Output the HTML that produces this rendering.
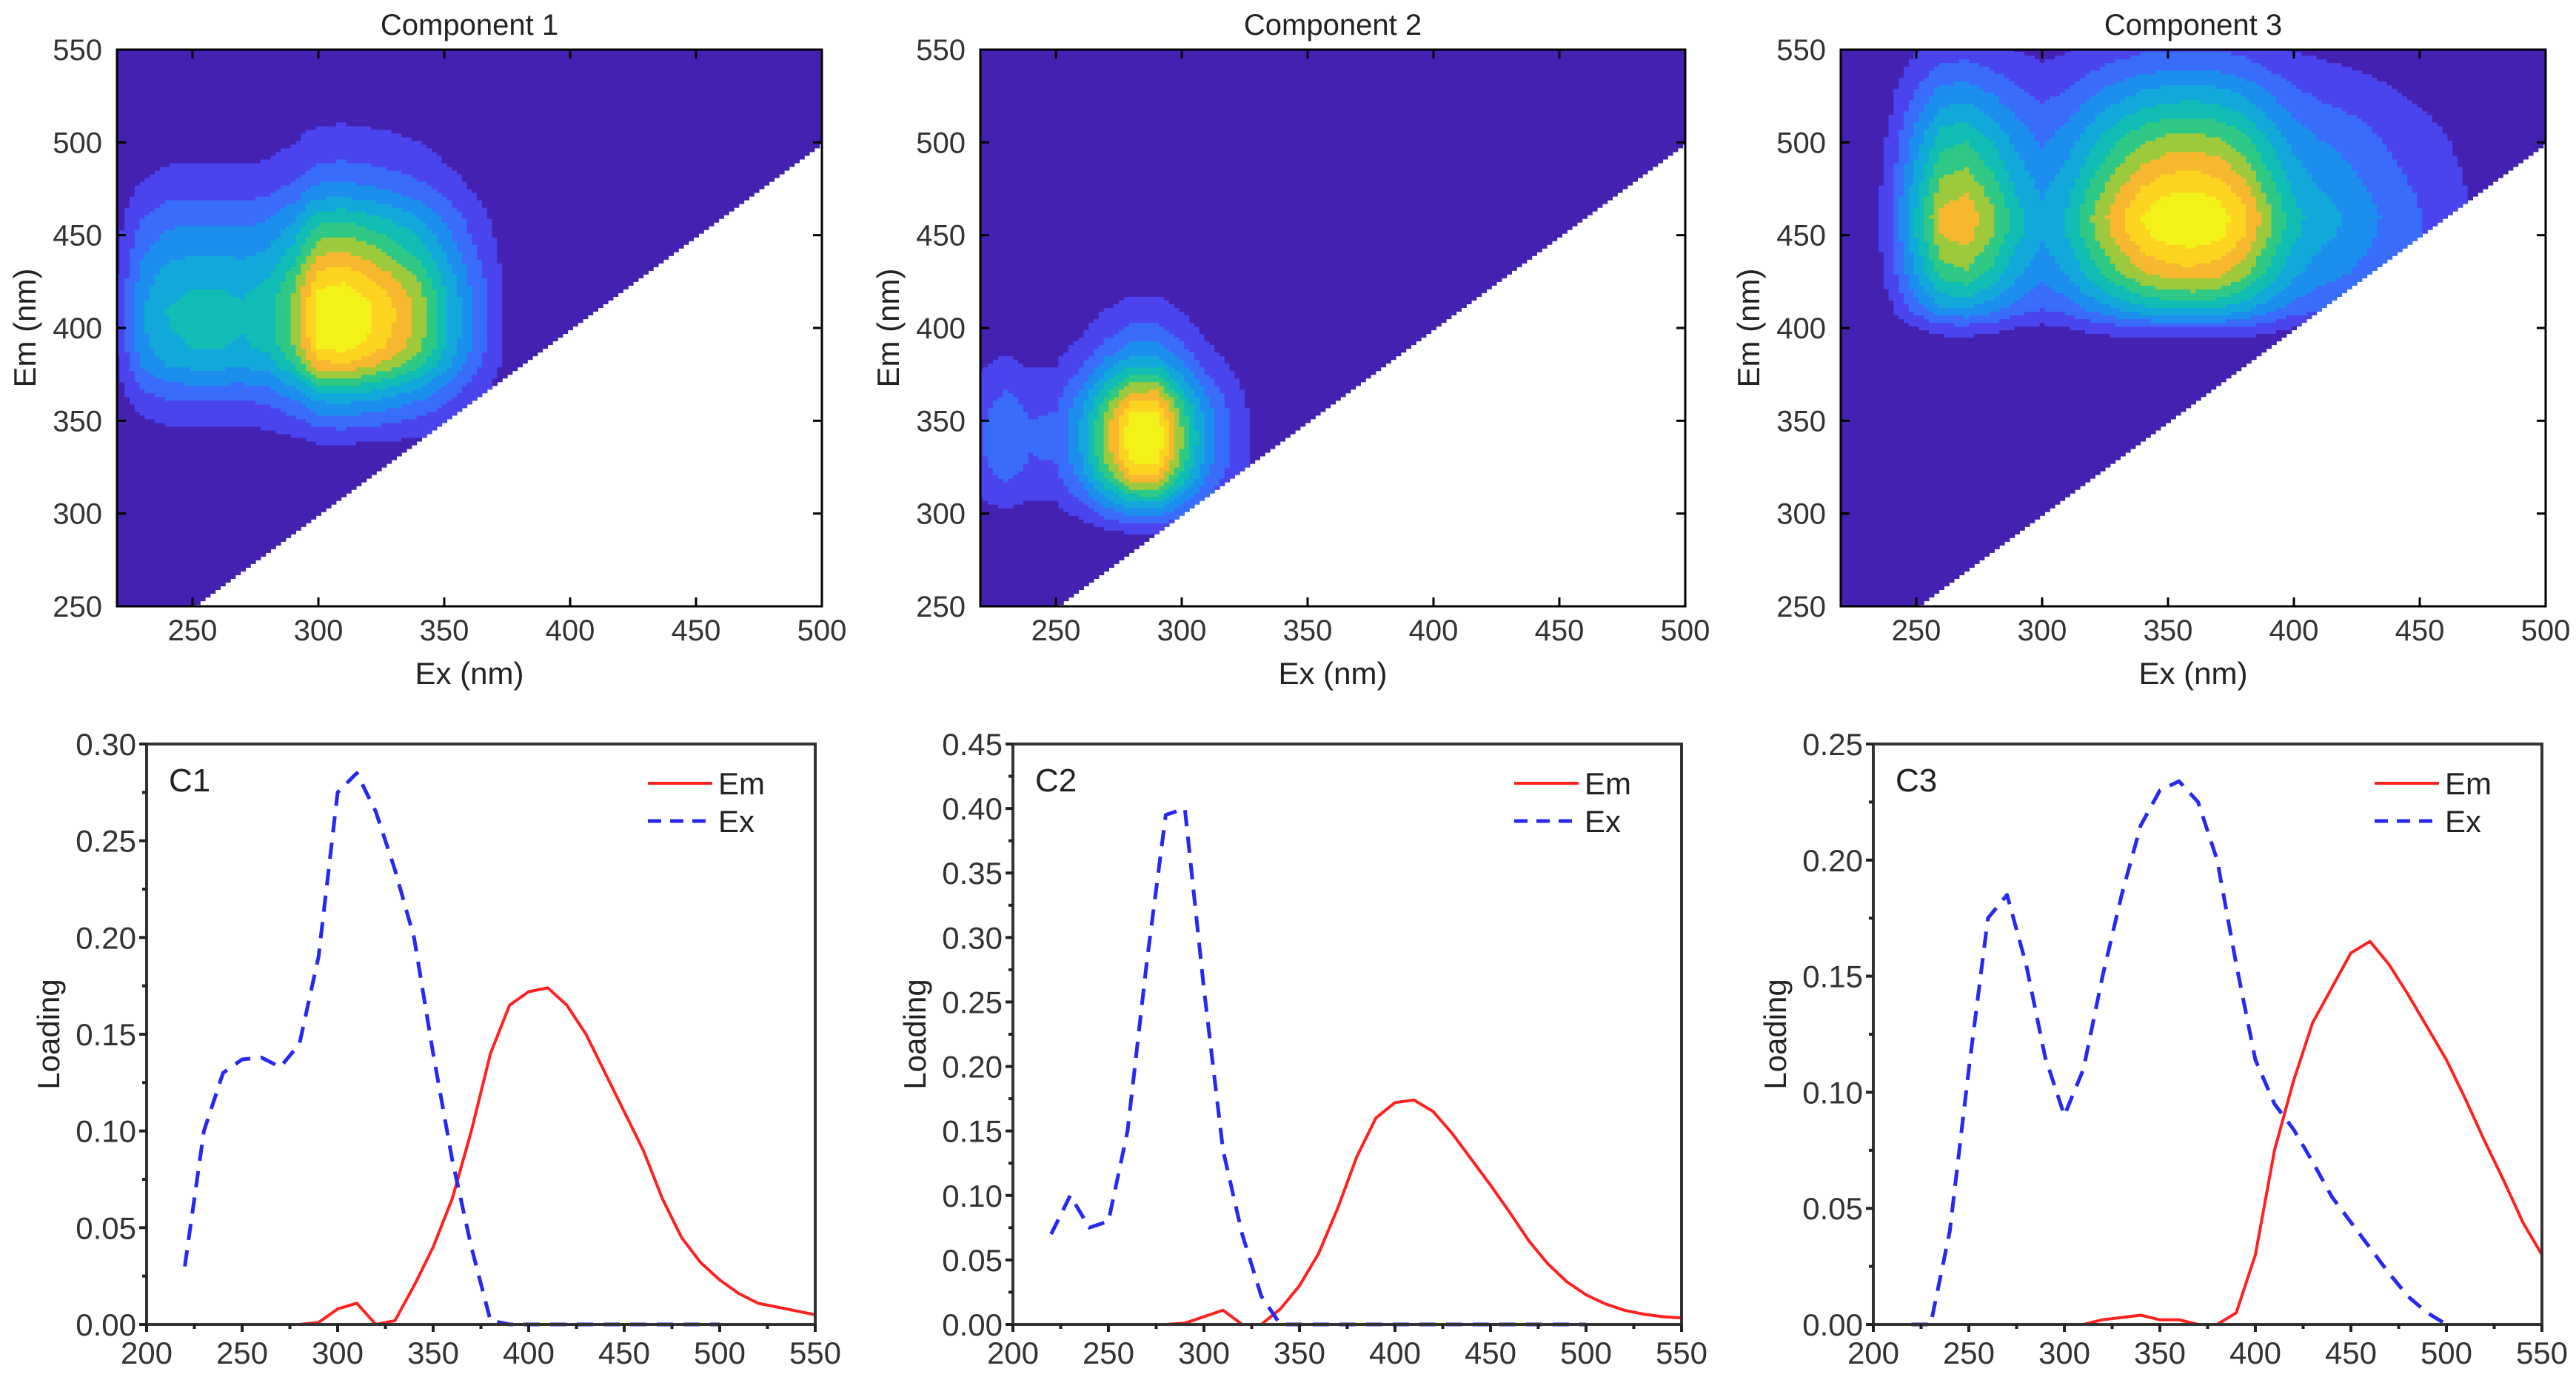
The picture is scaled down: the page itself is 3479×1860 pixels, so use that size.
<!DOCTYPE html>
<html><head><meta charset="utf-8"><style>
html,body{margin:0;padding:0;background:#fff;}
svg{display:block;font-family:"Liberation Sans",Arial,sans-serif;}
</style></head><body>
<svg id="fig" xmlns="http://www.w3.org/2000/svg" width="3479" height="1860" viewBox="0 0 3479 1860"></svg>
<script>
const exWl=[220,230,240,250,260,270,280,290,300,310,320,330,340,350,360,370,380,390,400,410,420,430,440,450,460,470,480,490,500];
const emWl=[250,260,270,280,290,300,310,320,330,340,350,360,370,380,390,400,410,420,430,440,450,460,470,480,490,500,510,520,530,540,550];
const c1Ex=[.03,.10,.13,.137,.138,.133,.145,.19,.275,.285,.265,.235,.20,.14,.085,.04,.002,0,0,0,0,0,0,0,0,0,0,0,0];
const c1Em=[0,0,0,0,.001,.008,.011,0,.002,.02,.04,.065,.10,.14,.165,.172,.174,.165,.15,.13,.11,.09,.065,.045,.032,.023,.016,.011,.009,.007,.005];
const c2Ex=[.07,.10,.075,.08,.15,.28,.395,.40,.26,.135,.07,.022,0,0,0,0,0,0,0,0,0,0,0,0,0,0,0,0,0];
const c2Em=[0,0,0,0,.001,.006,.011,0,0,.012,.03,.055,.09,.13,.16,.172,.174,.165,.148,.128,.108,.087,.065,.047,.033,.023,.016,.011,.008,.006,.005];
const c3Ex=[0,0,.04,.11,.175,.185,.155,.115,.09,.11,.15,.185,.215,.23,.234,.225,.20,.155,.114,.095,.084,.07,.055,.044,.033,.022,.012,.005,0];
const c3Em=[0,0,0,0,0,0,0,.002,.003,.004,.002,.002,0,0,.005,.03,.075,.105,.13,.145,.16,.165,.155,.142,.128,.114,.097,.079,.062,.044,.03];
const topEm2=[0,0,0,.02,.1,.3,.55,.8,.95,1,.97,.85,.65,.45,.3,.2,.13,.08,.05,.02,0,0,0,0,0,0,0,0,0,0,0];
const compTitles=["Component 1","Component 2","Component 3"];
const panelLabels=["C1","C2","C3"];
const yMaxes=[0.30,0.45,0.25];
const exTicks=[250,300,350,400,450,500];
const emTicks=[250,300,350,400,450,500,550];
const wlTicks=[200,250,300,350,400,450,500,550];

const NS="http://www.w3.org/2000/svg";
const svg=document.getElementById('fig');
function mk(tag,attrs,parent){const e=document.createElementNS(NS,tag);for(const k in attrs)e.setAttribute(k,attrs[k]);(parent||svg).appendChild(e);return e;}
function txt(s,attrs,parent){const e=mk('text',attrs,parent);e.textContent=s;return e;}
function interp(xs,ys,x){if(x<=xs[0])return ys[0];if(x>=xs[xs.length-1])return ys[ys.length-1];for(let i=0;i<xs.length-1;i++){if(x<=xs[i+1]){const t=(x-xs[i])/(xs[i+1]-xs[i]);return ys[i]+t*(ys[i+1]-ys[i]);}}return 0;}
const colors=["#4421B0","#4A44EE","#3A6CFA","#1C8EEE","#12A9DA","#10BDB4","#2FC884","#9CCA3C","#F7B830","#FDD420","#F2F21A"];

const topLeft=[158,1324,2486], TW=952, TT=67, TB=819;
const topEx=[c1Ex,c2Ex,c3Ex], topEm=[c1Em,topEm2,c3Em];
for(let p=0;p<3;p++){
  const L=topLeft[p];
  const xs=e=>L+(e-220)/280*TW, ys=m=>TB-(m-250)/300*(TB-TT);
  const g=mk('g',{});
  
  
  const ex=topEx[p], em=topEm[p];
  let mx=0;for(const a of ex)for(const b of em)mx=Math.max(mx,a*b);
  const st=2;
  for(let m=250;m<=550;m+=st){
    let runStart=null,runBand=-1;
    const flush=(endE)=>{if(runStart===null)return;const x0=xs(Math.max(220,runStart-st/2)),x1=xs(Math.min(500,endE+st/2));const y0=ys(Math.min(550,m+st/2)),y1=ys(Math.max(250,m-st/2));const r=mk('rect',{x:x0.toFixed(1),y:y0.toFixed(1),width:(x1-x0+0.6).toFixed(1),height:(y1-y0+0.6).toFixed(1),fill:colors[runBand]},g);};
    let last=null;
    for(let e=220;e<=500;e+=st){
      if(m<e){flush(last);runStart=null;runBand=-1;continue;}
      const v=interp(exWl,ex,e)*interp(emWl,em,m)/mx;
      const b=Math.min(10,Math.floor(v*11));
      if(b!==runBand){flush(last);runStart=e;runBand=b;}
      last=e;
    }
    flush(last);
  }
  // frame & ticks
  const f=mk('rect',{x:L,y:TT,width:TW,height:TB-TT,fill:'none',stroke:'#000','stroke-width':3});
  
  exTicks.forEach(t=>{const x=xs(t);mk('line',{x1:x,x2:x,y1:TB,y2:TB-12,stroke:'#000','stroke-width':3});mk('line',{x1:x,x2:x,y1:TT,y2:TT+12,stroke:'#000','stroke-width':3});
    const l=txt(t,{x:x,y:865,'font-size':40,fill:'#333','text-anchor':'middle'});});
  emTicks.forEach(t=>{const y=ys(t);mk('line',{x1:L,x2:L+12,y1:y,y2:y,stroke:'#000','stroke-width':3});mk('line',{x1:L+TW,x2:L+TW-12,y1:y,y2:y,stroke:'#000','stroke-width':3});
    const l=txt(t,{x:L-20,y:y+14,'font-size':40,fill:'#333','text-anchor':'end'});});
  const ti=txt(compTitles[p],{x:L+TW/2,y:47,'font-size':40,fill:'#222','text-anchor':'middle'});
  const xl=txt('Ex (nm)',{x:L+TW/2,y:924,'font-size':42,fill:'#222','text-anchor':'middle'});
  const yl=txt('Em (nm)',{x:0,y:0,'font-size':42,fill:'#222','text-anchor':'middle',transform:`translate(${L-110},${(TT+TB)/2}) rotate(-90)`});
}

const botLeft=[198,1368,2530], BW=903, BT=1005, BB=1789;
const bEx=[c1Ex,c2Ex,c3Ex], bEm=[c1Em,c2Em,c3Em];
for(let p=0;p<3;p++){
  const L=botLeft[p], ym=yMaxes[p];
  const xs=w=>L+(w-200)/350*BW, ys=v=>BB-v/ym*(BB-BT);
  const g=mk('g',{});
  
  
  const em=mk('polyline',{points:emWl.map((w,i)=>xs(w).toFixed(1)+','+ys(bEm[p][i]).toFixed(1)).join(' '),fill:'none',stroke:'#FF2020','stroke-width':4,'stroke-linejoin':'round'},g);
  
  const ex=mk('polyline',{points:exWl.map((w,i)=>xs(w).toFixed(1)+','+ys(bEx[p][i]).toFixed(1)).join(' '),fill:'none',stroke:'#2828F0','stroke-width':5,'stroke-dasharray':'22 14','stroke-linejoin':'round'},g);
  
  const f=mk('rect',{x:L,y:BT,width:BW,height:BB-BT,fill:'none',stroke:'#333','stroke-width':4});
  
  for(let w=200;w<=550;w+=25){const x=xs(w);mk('line',{x1:x,x2:x,y1:BB,y2:BB+(w%50===0?10:6),stroke:'#222','stroke-width':4});}
  wlTicks.forEach(t=>{const l=txt(t,{x:xs(t),y:1842,'font-size':42,fill:'#333','text-anchor':'middle'});});
  const n=Math.round(ym/0.05);
  for(let i=0;i<=2*n;i++){const v=i*0.025,y=ys(v);mk('line',{x1:L,x2:L-(i%2===0?10:6),y1:y,y2:y,stroke:'#222','stroke-width':4});
    if(i%2===0){const l=txt(v.toFixed(2),{x:L-14,y:y+15,'font-size':42,fill:'#333','text-anchor':'end'});}}
  const pl=txt(panelLabels[p],{x:L+30,y:1069,'font-size':44,fill:'#222'});
  const yl=txt('Loading',{x:0,y:0,'font-size':42,fill:'#222','text-anchor':'middle',transform:`translate(${L-118},${(BT+BB)/2}) rotate(-90)`});
  const R=L+BW;
  const lg=mk('g',{});
  mk('line',{x1:R-226,x2:R-139,y1:1058,y2:1058,stroke:'#FF2020','stroke-width':4},lg);
  const t1=txt('Em',{x:R-131,y:1073,'font-size':42,fill:'#222'},lg);
  mk('line',{x1:R-226,x2:R-139,y1:1109,y2:1109,stroke:'#2828F0','stroke-width':5,'stroke-dasharray':'18 12'},lg);
  const t2=txt('Ex',{x:R-131,y:1124,'font-size':42,fill:'#222'},lg);
}
</script>
</body></html>
